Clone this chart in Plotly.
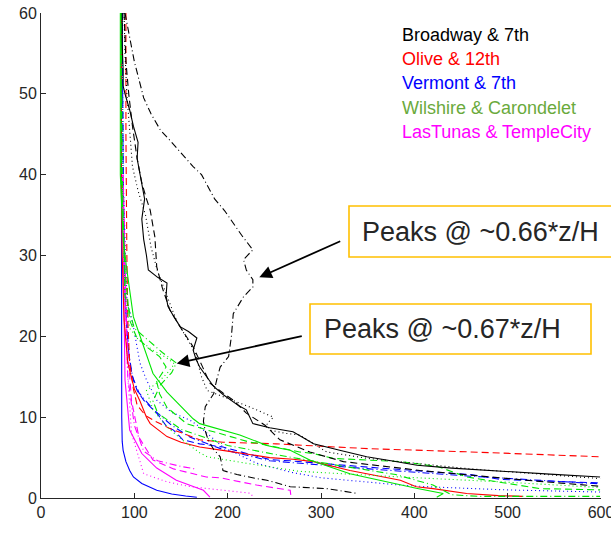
import plotly.graph_objects as go

# ---- Broadway & 7th (black) ----
bw_solid_x = [87, 87, 88, 88, 90, 95, 99, 104, 103, 106, 109, 111, 108, 110, 113, 115, 125, 135, 134, 136,
              142, 149, 158, 167, 163, 166, 170, 178, 185, 195, 203, 212, 220, 227, 245, 270, 282, 292, 320,
              349, 375, 403, 440, 492, 545, 599]
bw_solid_z = [60, 56, 53, 51, 50, 48, 46, 44, 42, 40, 38.5, 37, 34.5, 32, 30, 28.2, 27.3, 26.6, 25, 23.7,
              22.5, 21.2, 20.6, 19.8, 18.3, 17.2, 16.2, 15, 13.8, 12.8, 12.1, 11.4, 10.9, 9.2, 8.7, 8.2, 7.4,
              6.7, 5.9, 5.1, 4.6, 4.05, 3.7, 3.3, 2.95, 2.6]

bw_dash_x = [89, 90, 91, 94, 98, 103, 108, 113, 117, 122, 124, 130, 138, 150, 163, 172, 181, 195, 206, 220,
             240, 256, 270, 288, 324, 349, 385, 406, 460, 530, 599]
bw_dash_z = [60, 57, 54, 50, 46, 42, 39, 37, 35.6, 32.3, 28.6, 26, 23.3, 21, 18.7, 16.5, 14.2, 13, 12.1, 10.5,
             9, 7.2, 6.5, 5.7, 4.5, 4.2, 3.7, 3.4, 2.8, 2.1, 1.45]

bw_dot_x = [89, 90, 92, 95, 98, 104, 112, 118, 125, 135, 145, 165, 172, 178, 200, 225, 249, 242, 245, 262,
            277, 306, 350, 400, 460, 530, 599]
bw_dot_z = [60, 55, 50, 45, 41, 38, 35, 31, 28, 25, 22, 18, 15, 13.3, 12.3, 11.2, 10.0, 9.2, 8.4, 8.0,
            7.8, 5.7, 4.9, 4.3, 3.6, 3.0, 2.4]

bw_dashdot_x = [90, 95, 100, 104, 110, 118, 128, 140, 150, 163, 172, 186, 197, 206, 215, 227, 217, 220, 227,
                227, 217, 206, 204, 201, 192, 188, 185, 176, 174, 176, 179, 185, 192, 195, 210, 231, 242,
                267, 306, 340]
bw_dashdot_z = [60, 57, 54, 52.2, 49.5, 47.5, 45.5, 44, 42.7, 41, 40, 37, 35.5, 34, 32.5, 30.7, 29.5, 28.2, 27,
                26.1, 24.9, 22.8, 20, 17.5, 16.2, 14.5, 12.9, 11.3, 9.5, 8.3, 7.2, 6, 5.1, 3.4, 2.9, 2.4, 2.2,
                1.4, 1.16, 0.55]

# ---- Olive & 12th (red) ----
ol_solid_x = [86, 86, 87, 89, 93, 100, 106, 113, 117, 135, 150, 170, 200, 231, 245, 270, 292, 331, 350, 367,
              385, 402, 420, 456, 490, 516]
ol_solid_z = [60, 40, 30, 22, 16.7, 13.5, 12, 10, 9.2, 7.6, 6.9, 6.3, 5.8, 5.3, 5.0, 4.8, 4.5, 3.4, 3.0, 2.6,
              2.2, 1.4, 1.16, 0.55, 0.3, 0.2]

ol_dash_x = [91, 91, 92, 93, 95, 99, 103, 112, 124, 138, 152, 170, 195, 252, 300, 352, 460, 599]
ol_dash_z = [60, 45, 30, 22, 16.7, 13.5, 11.5, 10.2, 9.4, 8.6, 8.0, 7.2, 6.9, 6.7, 6.4, 6.1, 5.7, 5.1]

# ---- Vermont & 7th (blue) ----
vm_solid_x = [86, 86, 86, 86.5, 87, 88, 91, 95, 99, 108, 124, 140, 155, 167]
vm_solid_z = [60, 40, 20, 10, 7, 5.9, 4.5, 3.4, 2.6, 1.8, 0.95, 0.5, 0.25, 0.1]

vm_dash_x = [87, 88, 90, 93, 95, 99, 103, 110, 124, 135, 142, 152, 170, 195, 245, 267, 352, 385, 460, 492, 599]
vm_dash_z = [60, 40, 25, 19, 16.7, 14.6, 13.3, 12.1, 10.5, 8.8, 8.4, 7.2, 6.7, 6.3, 4.75, 4.6, 3.8, 3.5, 2.9,
             2.3, 1.86]

vm_dot_x = [87, 88, 91, 92, 99, 106, 113, 124, 140, 160, 170, 195, 231, 267, 300, 385, 420, 500, 599]
vm_dot_z = [60, 40, 28, 24.5, 21.2, 16.7, 14.6, 12.1, 10.6, 9.6, 8.8, 6.3, 4.3, 3.2, 2.5, 1.6, 1.36, 1.0, 0.74]

vm_dashdot_x = [87, 88, 90, 94, 98, 105, 120, 140, 160, 195, 245, 352, 460, 599]
vm_dashdot_z = [60, 40, 25, 18, 15, 13, 11, 9, 7.5, 6.0, 4.6, 3.6, 2.7, 1.75]

# ---- Wilshire & Carondelet (green) ----
wc_solid_x = [85, 85, 88, 92, 99, 106, 117, 120, 135, 149, 163, 170, 206, 213, 242, 249, 267, 288, 331, 385,
              402, 431, 424]
wc_solid_z = [60, 40, 32, 28.2, 22.4, 20, 16.2, 15.4, 13.1, 11.5, 9.8, 9.2, 8.0, 7.8, 6.5, 6.3, 5.9, 4.7, 3.0,
              1.6, 1.2, 0.55, 0.1]

wc_dash_x = [86, 86, 90, 95, 102, 113, 127, 134, 124, 127, 135, 156, 178, 185, 224, 231, 277, 292, 313, 385,
             425, 456, 535, 599]
wc_dash_z = [60, 40, 28, 22, 20, 18.7, 17.5, 16.2, 14.4, 12.9, 11.2, 9.2, 8.4, 8.2, 6.9, 6.8, 5.7, 5.5, 4.9,
             4.5, 3.9, 2.6, 1.16, 1.0]

wc_dot_x = [86, 87, 90, 95, 105, 120, 135, 143, 135, 124, 113, 120, 135, 150, 170, 178, 220, 267, 277, 385,
            492, 599]
wc_dot_z = [60, 40, 25, 21, 19.5, 18.3, 17.3, 16.6, 15.4, 14.2, 13.3, 10.9, 8.8, 7.3, 5.6, 5.1, 4.3, 3.5, 3.3,
            2.6, 2.0, 1.3]

wc_dashdot_x = [86, 87, 90, 100, 115, 130, 145, 140, 128, 120, 125, 150, 200, 260, 320, 380, 420, 440, 470,
                599]
wc_dashdot_z = [60, 40, 25, 21, 19.5, 18, 16.7, 15.5, 14, 12, 10.5, 8.5, 6.5, 5.2, 4.0, 2.9, 1.6, 0.4, 0.2,
                0.2]

# ---- LasTunas & TempleCity (magenta) ----
lt_solid_x = [87, 88, 89, 90, 95, 108, 124, 145, 174, 181]
lt_solid_z = [40, 30, 20, 14.6, 8.4, 5.5, 3.7, 2.2, 0.95, 0.1]

lt_dash_x = [88, 90, 92, 97, 105, 120, 142, 177, 192, 231, 267, 268]
lt_dash_z = [40, 30, 20, 12, 7.5, 4.7, 3.6, 2.6, 2.5, 1.6, 0.95, 0.05]

lt_dot_x = [88, 90, 93, 97, 110, 135, 160, 200, 224, 227]
lt_dot_z = [40, 25, 15, 8, 3.0, 2.0, 1.4, 0.9, 0.6, 0.2]

lt_dashdot_x = [88, 90, 93, 100, 110, 125, 150, 165]
lt_dashdot_z = [40, 25, 15, 9, 5.8, 4.6, 3.9, 3.6]

# ---- legend labels ----
site_names = ["Broadway & 7th", "Olive & 12th", "Vermont & 7th", "Wilshire & Carondelet",
              "LasTunas & TempleCity"]
site_text_colors = ["#000000", "#ff0000", "#0000ff", "#6aaa3c", "#ff00ff"]

x_ticks = [0, 100, 200, 300, 400, 500, 600]
z_ticks = [0, 10, 20, 30, 40, 50, 60]

# ---- drawing ----
RED, BLUE, GREEN, MAG, BLK = "#ff0000", "#0000ff", "#00e600", "#ff00ff", "#000000"
DASH = "7px,4px"
DOT = "1px,3px"
DASHDOT = "7px,3px,1px,3px"

series = [
    (vm_solid_x, vm_solid_z, BLUE, "solid"),
    (vm_dash_x, vm_dash_z, BLUE, DASH),
    (vm_dot_x, vm_dot_z, BLUE, DOT),
    (vm_dashdot_x, vm_dashdot_z, BLUE, DASHDOT),
    (lt_solid_x, lt_solid_z, MAG, "solid"),
    (lt_dash_x, lt_dash_z, MAG, DASH),
    (lt_dot_x, lt_dot_z, MAG, DOT),
    (lt_dashdot_x, lt_dashdot_z, MAG, DASHDOT),
    (ol_solid_x, ol_solid_z, RED, "solid"),
    (ol_dash_x, ol_dash_z, RED, DASH),
    (wc_solid_x, wc_solid_z, GREEN, "solid"),
    (wc_dash_x, wc_dash_z, GREEN, DASH),
    (wc_dot_x, wc_dot_z, GREEN, DOT),
    (wc_dashdot_x, wc_dashdot_z, GREEN, DASHDOT),
    (bw_solid_x, bw_solid_z, BLK, "solid"),
    (bw_dash_x, bw_dash_z, BLK, DASH),
    (bw_dot_x, bw_dot_z, BLK, DOT),
    (bw_dashdot_x, bw_dashdot_z, BLK, DASHDOT),
]

fig = go.Figure()
for xs, zs, color, dash in series:
    fig.add_trace(go.Scatter(x=xs, y=zs, mode="lines", showlegend=False, hoverinfo="skip",
                             line=dict(color=color, width=1.1, dash=dash)))

W, H = 611, 533
ML, MR, MT, MB = 41, 10, 13, 35
PW, PH = W - ML - MR, H - MT - MB


def px(xp):
    return (xp - ML) / PW


def py(yp):
    return (H - MB - yp) / PH


FONT = "Liberation Sans, Arial, sans-serif"
annotations = []

# site labels
for i, (name, col) in enumerate(zip(site_names, site_text_colors)):
    annotations.append(dict(text=name, xref="paper", yref="paper", x=px(400), y=py(35 + 24.2 * i),
                            xanchor="left", yanchor="middle", showarrow=False,
                            font=dict(family=FONT, size=18, color=col)))

# callout boxes
box_line = dict(color="#ffc000", width=1.6)
shapes = [
    dict(type="rect", xref="paper", yref="paper", x0=px(349), x1=px(640), y0=py(257), y1=py(206),
         line=box_line, fillcolor="white", layer="above"),
    dict(type="rect", xref="paper", yref="paper", x0=px(310), x1=px(591), y0=py(354), y1=py(304),
         line=box_line, fillcolor="white", layer="above"),
]
annotations.append(dict(text="Peaks @ ~0.66*z/H", xref="paper", yref="paper", x=px(360), y=py(232),
                        xanchor="left", yanchor="middle", showarrow=False,
                        font=dict(family=FONT, size=27, color="#262626")))
annotations.append(dict(text="Peaks @ ~0.67*z/H", xref="paper", yref="paper", x=px(321.5), y=py(329),
                        xanchor="left", yanchor="middle", showarrow=False,
                        font=dict(family=FONT, size=27, color="#262626")))

# arrows pointing at the peaks
annotations.append(dict(text="", x=233.9, y=27.3, ax=322.2, ay=31.85, xref="x", yref="y",
                        axref="x", ayref="y", showarrow=True, arrowhead=2, arrowsize=1.4,
                        arrowwidth=1.8, arrowcolor="black"))
annotations.append(dict(text="", x=145.4, y=16.65, ax=281, ay=20.07, xref="x", yref="y",
                        axref="x", ayref="y", showarrow=True, arrowhead=2, arrowsize=1.4,
                        arrowwidth=1.8, arrowcolor="black"))

axis_common = dict(showgrid=False, zeroline=False, showline=True, linecolor="#262626", linewidth=1,
                   ticks="inside", ticklen=5, tickwidth=1, tickcolor="#262626",
                   ticklabeloverflow="allow", automargin=False,
                   tickfont=dict(family=FONT, size=16, color="#262626"), fixedrange=True)

fig.update_layout(
    width=W, height=H,
    margin=dict(l=ML, r=MR, t=MT, b=MB),
    paper_bgcolor="white", plot_bgcolor="white",
    xaxis=dict(range=[0, 600], tickvals=x_ticks, **axis_common),
    yaxis=dict(range=[0, 60], tickvals=z_ticks, **axis_common),
    shapes=shapes,
    annotations=annotations,
)

fig.write_html("out.html")
